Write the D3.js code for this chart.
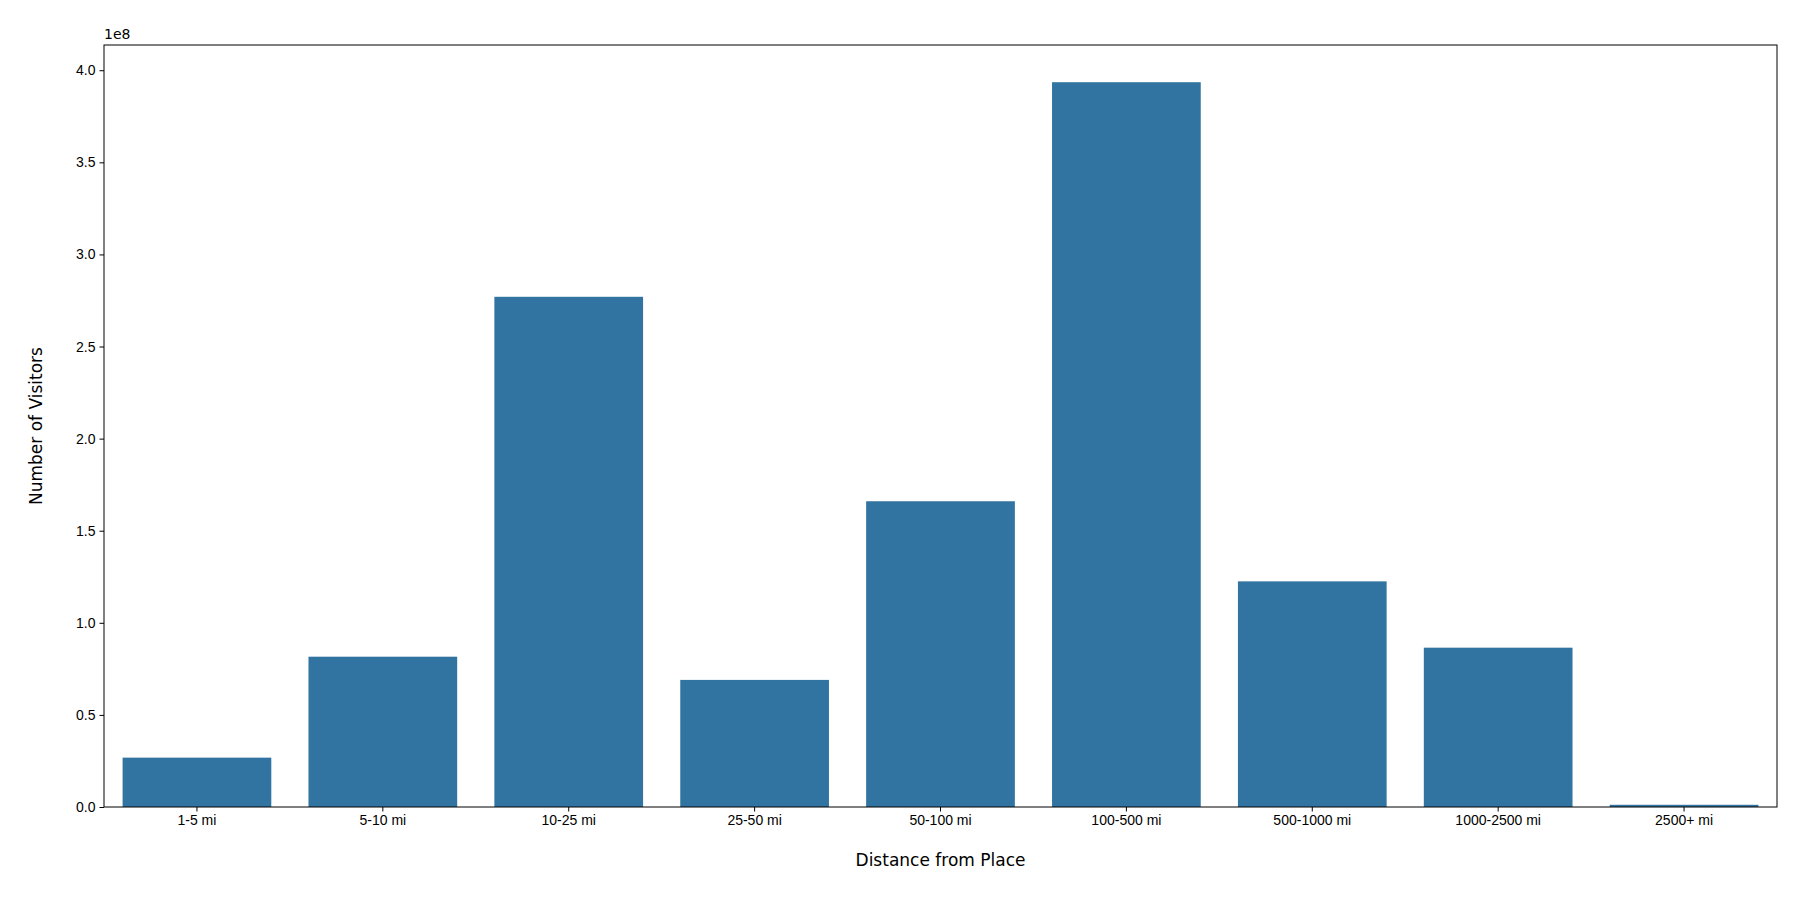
<!DOCTYPE html>
<html><head><meta charset="utf-8">
<script src="https://cdn.jsdelivr.net/npm/d3@7"></script>
<style>body{margin:0;background:#fff}svg{font-family:"DejaVu Sans",sans-serif}</style>
</head><body>
<svg id="chart" width="1800" height="900"></svg>
<script>
const categories = ["1-5 mi","5-10 mi","10-25 mi","25-50 mi","50-100 mi","100-500 mi","500-1000 mi","1000-2500 mi","2500+ mi"];
const visitors = [2.68e7, 8.16e7, 2.77e8, 6.9e7, 1.66e8, 3.935e8, 1.225e8, 8.65e7, 1.2e6];
const yTicks = [0, 0.5, 1.0, 1.5, 2.0, 2.5, 3.0, 3.5, 4.0];

const svg = d3.select("#chart"),
      margin = { top: 45, right: 23, bottom: 93, left: 104 },
      width = +svg.attr("width") - margin.left - margin.right,
      height = +svg.attr("height") - margin.top - margin.bottom;

const g = svg.append("g").attr("transform", `translate(${margin.left},${margin.top})`);

const x = d3.scaleBand().domain(categories).range([0, width]).paddingInner(0.2).paddingOuter(0.1);
const y = d3.scaleLinear().domain([0, 4.137e8]).range([height, 0]);

g.selectAll(".bar")
  .data(categories)
  .enter().append("rect")
  .attr("class", "bar")
  .attr("x", d => x(d))
  .attr("y", (d, i) => y(visitors[i]))
  .attr("width", x.bandwidth())
  .attr("height", (d, i) => height - y(visitors[i]))
  .attr("fill", "#3274a1");

const xAxis = g.append("g")
  .attr("transform", `translate(0,${height})`)
  .call(d3.axisBottom(x).tickSize(4.5).tickPadding(4));
const yAxis = g.append("g")
  .call(d3.axisLeft(y).tickValues(yTicks.map(v => v * 1e8)).tickFormat(d => (d / 1e8).toFixed(1)).tickSize(4.5).tickPadding(4));
[xAxis, yAxis].forEach(a => {
  a.selectAll("text").style("font-size", "14px").attr("fill", "#000");
  a.selectAll("line").attr("stroke", "#000");
  a.select(".domain").remove();
});

g.append("rect").attr("width", width).attr("height", height)
  .attr("fill", "none").attr("stroke", "#000").attr("stroke-width", 1);

g.append("text").attr("x", 0).attr("y", -6).style("font-size", "14px").text("1e8");

svg.append("text")
  .attr("x", margin.left + width / 2).attr("y", 866)
  .attr("text-anchor", "middle").style("font-size", "17px")
  .text("Distance from Place");

svg.append("text")
  .attr("transform", `translate(42,${margin.top + height / 2}) rotate(-90)`)
  .attr("text-anchor", "middle").style("font-size", "17px")
  .text("Number of Visitors");
</script>
</body></html>
